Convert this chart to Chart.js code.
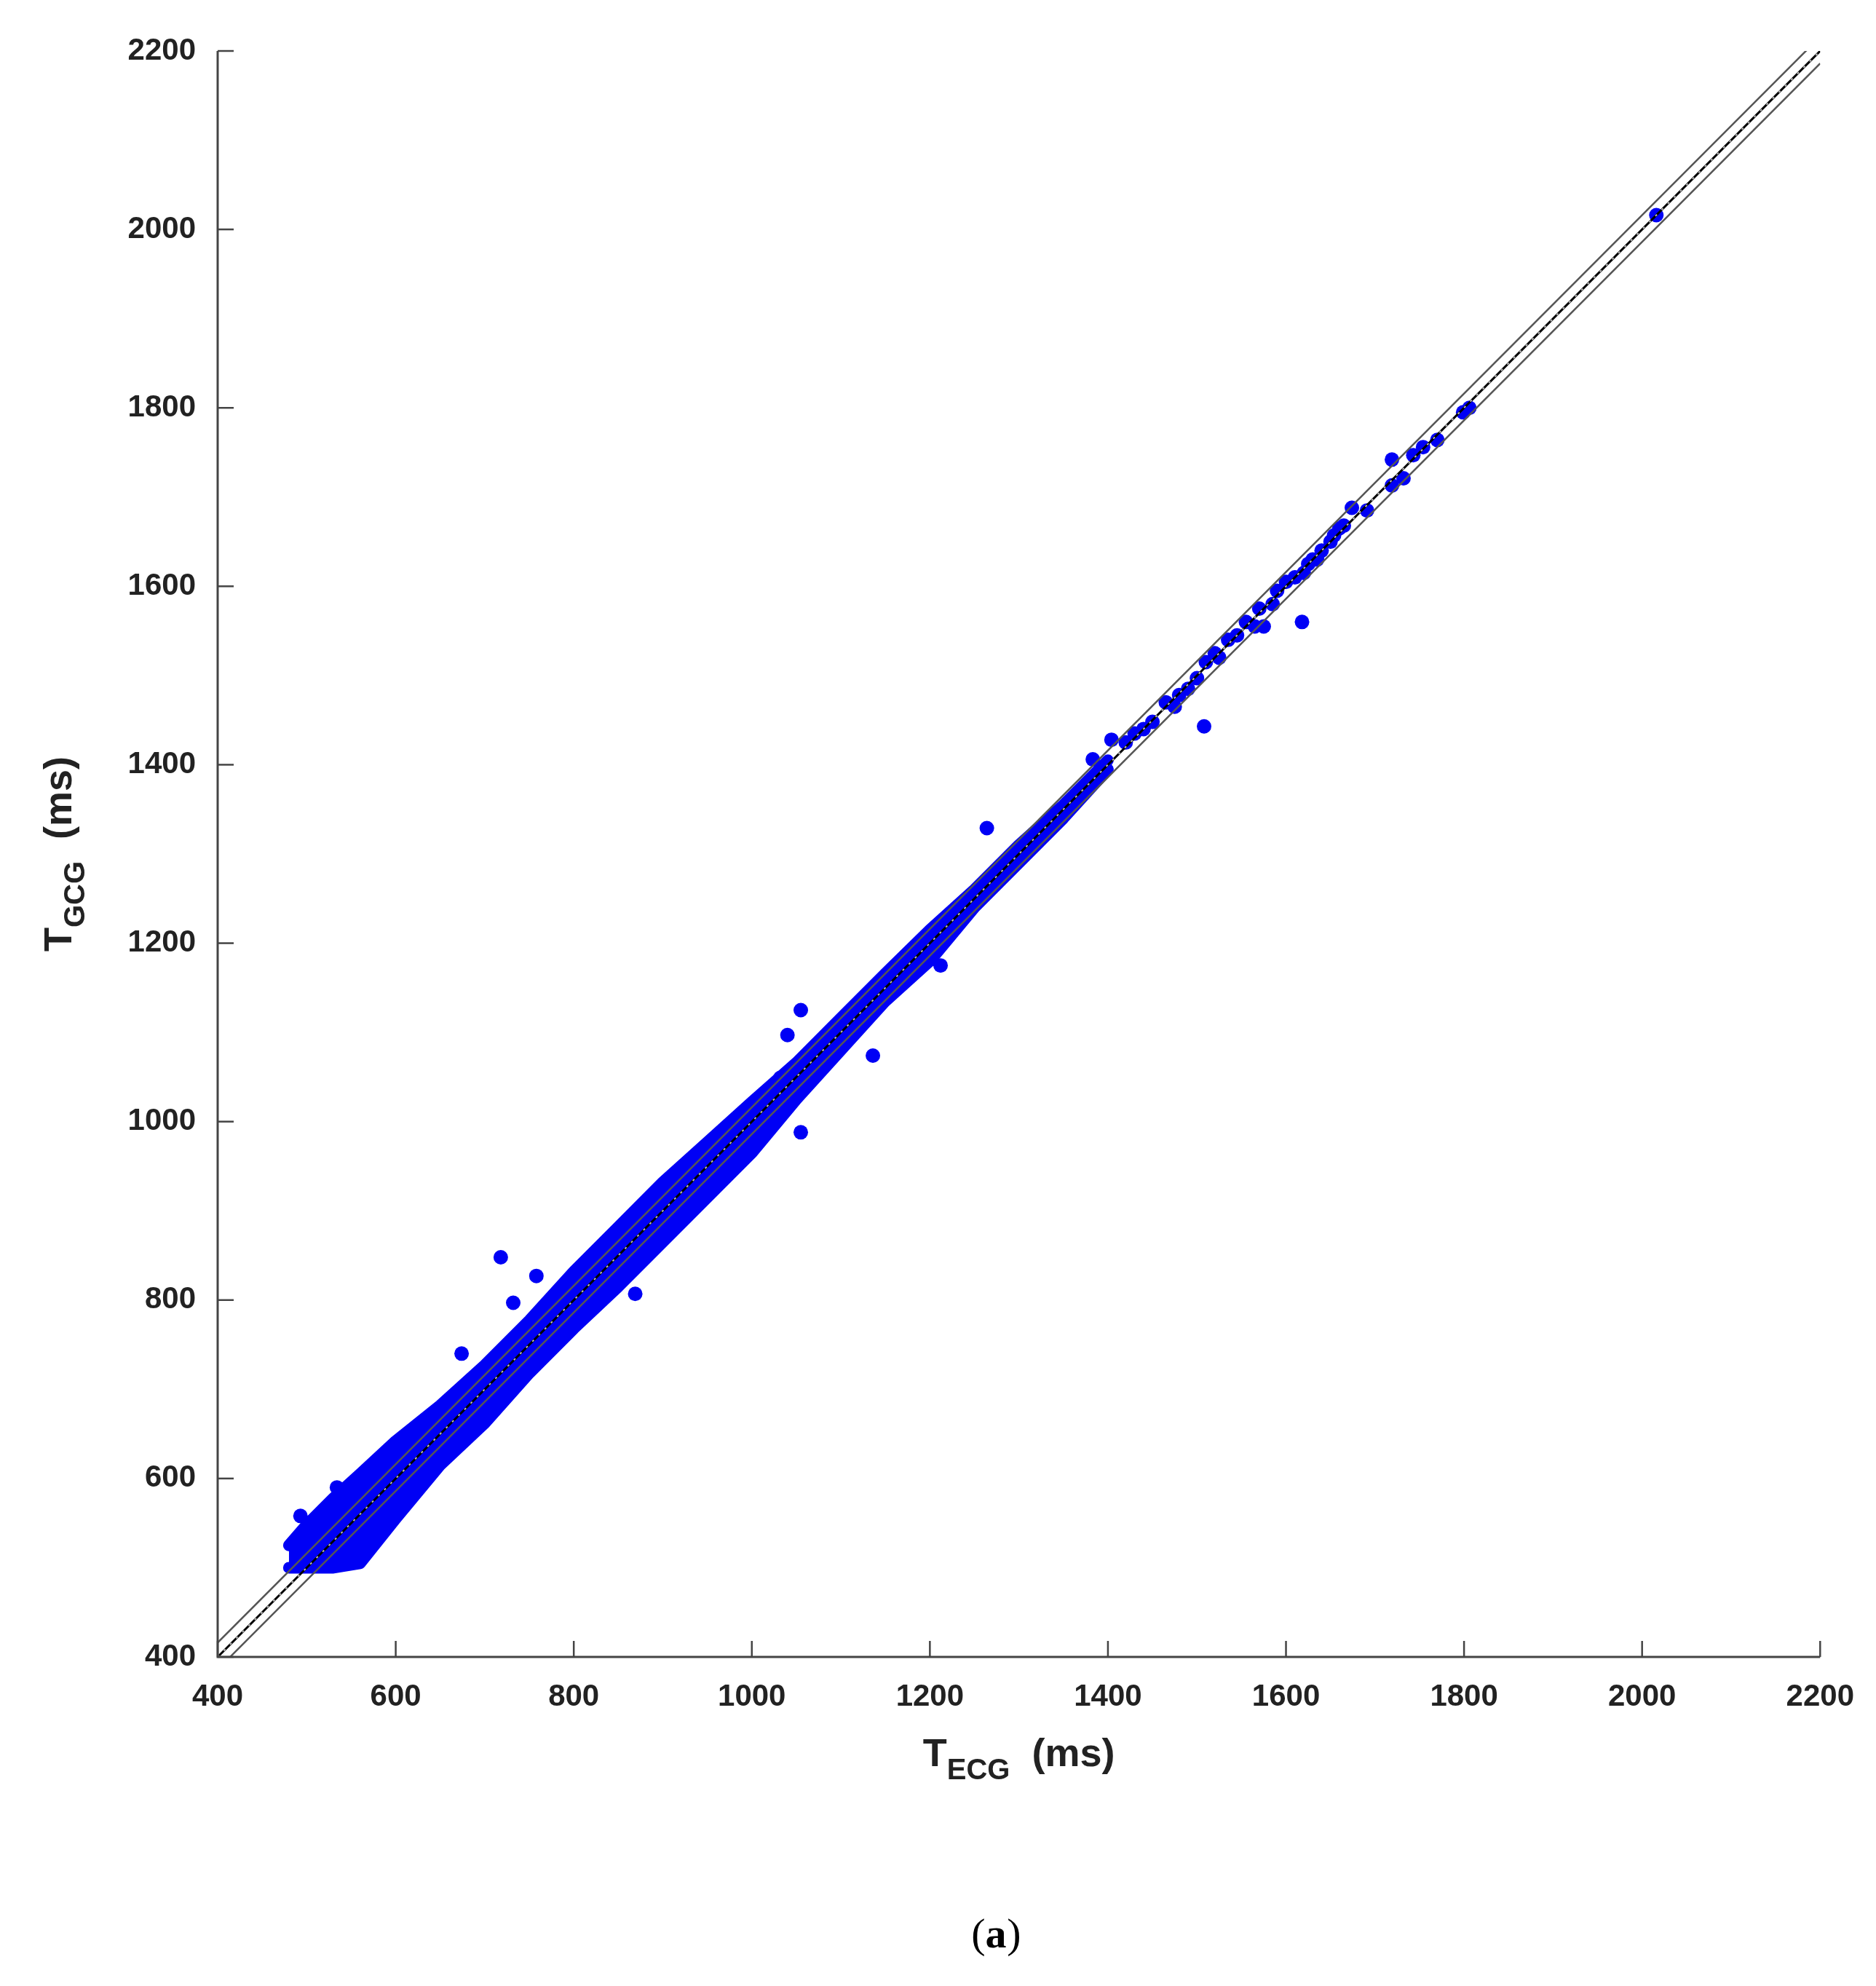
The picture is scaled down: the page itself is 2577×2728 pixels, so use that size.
<!DOCTYPE html>
<html><head><meta charset="utf-8">
<script src="https://cdn.jsdelivr.net/npm/chart.js@4/dist/chart.umd.min.js"></script>
<style>html,body{margin:0;padding:0;background:#fff}#wrap{width:2577px;height:2728px}</style>
</head><body><div id="wrap"><canvas id="c"></canvas></div>
<script>
const tickValues = [400,600,800,1000,1200,1400,1600,1800,2000,2200];
const bandX     = [480,500,530,560,600,650,700,750,800,850,900,950,1000,1050,1100,1150,1200,1250,1300,1350,1400];
const bandUpper = [525,548,578,605,642,682,727,777,832,882,932,977,1022,1066,1116,1166,1215,1260,1310,1355,1405];
const bandLower = [500,500,500,505,555,615,662,718,768,815,865,915,965,1025,1080,1135,1180,1240,1290,1340,1395];
const pointsX = [718,758,732,869,674,493,534,1055,1055,1136,1212,1264,1508,1618,2016,1806,1799,1719,1719,1732,1754,1770,1743,1674,1691,1654,1404,1383,1040,1032,
 1420,1440,1450,1465,1480,1490,1500,1510,1520,1535,1545,1555,1565,1570,1585,1590,1600,1610,1620,1630,1640,1650,1660,1665,1430,1475,1525,1575,1625,1635];
const pointsY = [848,827,797,807,740,558,590,1125,988,1074,1175,1329,1443,1560,2016,1800,1795,1742,1713,1721,1756,1764,1747,1688,1685,1657,1428,1406,1097,1049,
 1425,1440,1448,1470,1478,1485,1497,1515,1525,1540,1545,1560,1555,1575,1580,1595,1605,1610,1615,1630,1640,1650,1665,1668,1435,1465,1520,1555,1625,1630];
const lineX = [400,2200];
const upperLimitY = [416,2216];
const regressionY = [400,2200];
const identityY = [400,2200];
const lowerLimitY = [386,2186];

const BLUE = '#0000f5';
const xy = (xs, ys) => xs.map((x,i)=>({x, y: ys[i]}));
const BOLD = 'bold 54px "Liberation Sans", Arial, sans-serif';
const SUB = 'bold 40px "Liberation Sans", Arial, sans-serif';

const overlay = {
  id:'overlay',
  afterDraw(chart){
    const {ctx, chartArea:a, scales:{x, y}} = chart;
    ctx.save();
    ctx.strokeStyle = '#444'; ctx.lineWidth = 3;
    ctx.beginPath();
    ctx.moveTo(a.left, a.top); ctx.lineTo(a.left, a.bottom); ctx.lineTo(a.right, a.bottom);
    ctx.stroke();
    ctx.lineWidth = 2.5;
    tickValues.forEach(v=>{
      const px = x.getPixelForValue(v), py = y.getPixelForValue(v);
      ctx.beginPath(); ctx.moveTo(px, a.bottom); ctx.lineTo(px, a.bottom-22); ctx.stroke();
      ctx.beginPath(); ctx.moveTo(a.left, py); ctx.lineTo(a.left+22, py); ctx.stroke();
    });
    ctx.fillStyle = '#222';
    ctx.textAlign='left'; ctx.textBaseline='alphabetic';
    ctx.font = BOLD; const wT = ctx.measureText('T').width, wU = ctx.measureText('  (ms)').width;
    ctx.font = SUB; const wS = ctx.measureText('ECG').width, wS2 = ctx.measureText('GCG').width;
    const cx = (a.left + a.right)/2;
    let sx = cx - (wT+wS+wU)/2, by = a.bottom + 150;
    ctx.font = BOLD; ctx.fillText('T', sx, by);
    ctx.font = SUB; ctx.fillText('ECG', sx+wT, by+18);
    ctx.font = BOLD; ctx.fillText('  (ms)', sx+wT+wS, by);
    ctx.save();
    ctx.translate(98, (a.top+a.bottom)/2); ctx.rotate(-Math.PI/2);
    let sy = -(wT+wS2+wU)/2;
    ctx.font = BOLD; ctx.fillText('T', sy, 0);
    ctx.font = SUB; ctx.fillText('GCG', sy+wT, 18);
    ctx.font = BOLD; ctx.fillText('  (ms)', sy+wT+wS2, 0);
    ctx.restore();
    ctx.textAlign='center'; ctx.fillStyle='#000';
    ctx.font = '58px "Liberation Serif", "Times New Roman", serif';
    ctx.fillText('(', 1344, 2675);
    ctx.font = 'bold 58px "Liberation Serif", "Times New Roman", serif';
    ctx.fillText('a', 1368, 2675);
    ctx.font = '58px "Liberation Serif", "Times New Roman", serif';
    ctx.fillText(')', 1393, 2675);
    ctx.restore();
  }
};

const tickFont = {family:'"Liberation Sans", Arial, sans-serif', size:42, weight:'bold'};
new Chart(document.getElementById('c'), {
  type:'scatter',
  data:{ datasets:[
    {data: xy(bandX, bandUpper), showLine:true, fill:'+1', backgroundColor:BLUE, borderColor:BLUE, borderWidth:16, borderJoinStyle:'round', borderCapStyle:'round', pointRadius:0, order:10},
    {data: xy(bandX, bandLower), showLine:true, fill:false, borderColor:BLUE, borderWidth:16, borderJoinStyle:'round', borderCapStyle:'round', pointRadius:0, order:9},
    {data: xy(pointsX, pointsY), backgroundColor:BLUE, borderWidth:0, pointRadius:10, order:8},
    {data: xy(lineX, upperLimitY), showLine:true, borderColor:'#555', borderWidth:2.5, pointRadius:0, order:4},
    {data: xy(lineX, lowerLimitY), showLine:true, borderColor:'#555', borderWidth:2.5, pointRadius:0, order:3},
    {data: xy(lineX, regressionY), showLine:true, borderColor:'#000', borderWidth:3, pointRadius:0, order:2},
    {data: xy(lineX, identityY), showLine:true, borderColor:'#bbb', borderWidth:2, borderDash:[3,9], pointRadius:0, order:1}
  ]},
  options:{
    responsive:true, maintainAspectRatio:false, animation:false,
    layout:{padding:{top:70, right:60, left:0, bottom:0}},
    plugins:{legend:{display:false}, tooltip:{enabled:false}},
    scales:{
      x:{type:'linear', min:400, max:2200,
         afterBuildTicks(s){ s.ticks = tickValues.map(v=>({value:v})); },
         afterFit(s){ s.height = 452; },
         grid:{display:false, drawTicks:false}, border:{display:false},
         ticks:{padding:30, color:'#222', font:tickFont, callback:v=>String(v)}},
      y:{type:'linear', min:400, max:2200,
         afterBuildTicks(s){ s.ticks = tickValues.map(v=>({value:v})); },
         afterFit(s){ s.width = 299; },
         grid:{display:false, drawTicks:false}, border:{display:false},
         ticks:{padding:30, color:'#222', font:tickFont, callback:v=>String(v)}}
    }
  },
  plugins:[overlay]
});
</script></body></html>
